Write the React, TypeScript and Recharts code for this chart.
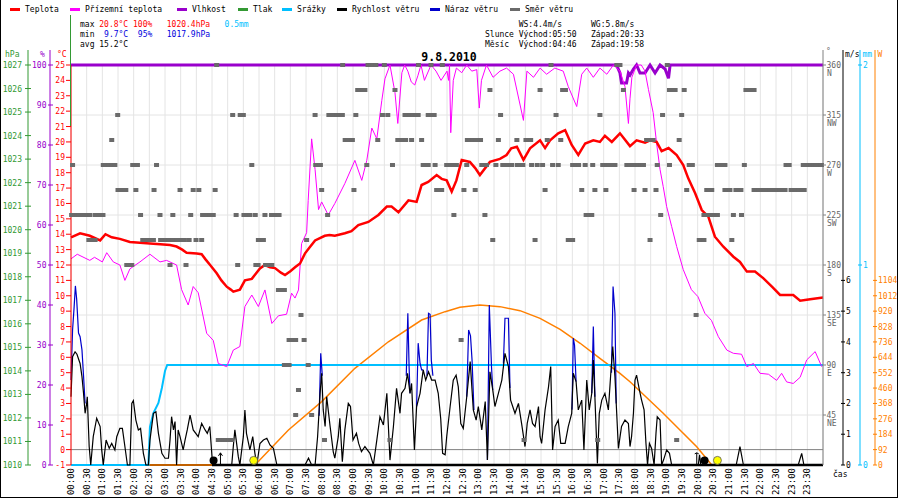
import React from "react";
import { ComposedChart, Line, Scatter, XAxis, YAxis, CartesianGrid, ReferenceLine } from "recharts";

const FONT = '"DejaVu Sans Mono", "Liberation Mono", monospace';

const C = {
  temp: "#ff0000",
  ground: "#ff00ff",
  hum: "#9900cc",
  pres: "#339933",
  rain: "#00bfff",
  ws: "#000000",
  wg: "#0000cc",
  dir: "#6a6a6a",
  sun: "#ff8000",
  axisGray: "#808080",
};

// axis ids (Recharts stacks same-side axes by id order, nearest to plot first)
const AX = { temp: "a_temp", hum: "b_hum", pres: "c_pres", dir: "d_dir", ws: "e_ws", mm: "f_mm", W: "g_W" };

// ---- tick labels ----
const timeLabels = [
  "00:00","00:30","01:00","01:30","02:00","02:30","03:00","03:30","04:00","04:30","05:00","05:30",
  "06:00","06:30","07:00","07:30","08:00","08:30","09:00","09:30","10:00","10:30","11:00","11:30",
  "12:00","12:30","13:00","13:30","14:00","14:30","15:00","15:30","16:00","16:30","17:00","17:30",
  "18:00","18:30","19:00","19:30","20:00","20:30","21:00","21:30","22:00","22:30","23:00","23:30",
];
const timeTicks = timeLabels.map((_, i) => i * 0.5);
const tempTicks = [-1,0,1,2,3,4,5,6,7,8,9,10,11,12,13,14,15,16,17,18,19,20,21,22,23,24,25];
const humTicks = [0,10,20,30,40,50,60,70,80,90,100];
const presTicks = [1010,1011,1012,1013,1014,1015,1016,1017,1018,1019,1020,1021,1022,1023,1024,1025,1026,1027];
const dirTicks = [45,90,135,180,225,270,315,360];
const dirNames = ["NE","E","SE","S","SW","W","NW","N"];
const wsTicks = [0,1,2,3,4,5,6];
const mmTicks = [0,1,2];
const wTicks = [0,92,184,276,368,460,552,644,736,828,920,1012,1104];

// ---- series (time in hours, value) ----
const temperature: [number, number][] = [
  [0,13.8],[0.29,14.06],[0.6,13.9],[0.93,13.6],[1.1,14.0],[1.3,13.8],[1.56,13.7],[1.88,13.5],[2.2,13.45],[2.52,13.4],
  [2.85,13.35],[3.16,13.3],[3.37,13.2],[3.55,13.0],[3.69,12.8],[4.01,12.75],[4.17,12.7],[4.3,12.35],[4.44,12.0],[4.65,11.46],
  [4.8,11.0],[4.97,10.59],[5.1,10.4],[5.18,10.27],[5.39,10.4],[5.55,11.0],[5.77,11.1],[6.03,11.78],[6.19,12.0],[6.35,11.85],
  [6.51,11.8],[6.7,11.5],[6.83,11.35],[7.0,11.6],[7.15,11.85],[7.31,12.1],[7.47,12.76],[7.6,13.1],[7.79,13.6],[8.1,13.9],
  [8.25,13.95],[8.42,13.9],[8.74,14.06],[8.95,14.2],[9.17,14.6],[9.49,14.8],[9.81,15.25],[10.08,15.8],[10.23,15.8],[10.45,15.43],
  [10.77,16.2],[11.03,16.1],[11.19,17.2],[11.4,17.4],[11.67,17.85],[11.83,17.6],[11.99,17.5],[12.15,16.77],[12.3,17.5],[12.47,18.83],
  [12.73,18.7],[12.9,18.3],[13.05,17.85],[13.37,18.7],[13.69,18.9],[13.9,19.15],[14.05,19.58],[14.23,19.69],[14.44,18.83],[14.65,19.58],
  [14.97,20.1],[15.13,19.6],[15.29,20.1],[15.55,20.56],[15.77,20.77],[15.98,19.8],[16.19,19.15],[16.41,19.9],[16.67,20.1],[16.88,20.0],
  [17.04,20.4],[17.26,20.0],[17.52,20.56],[17.84,19.73],[18.05,20.1],[18.32,19.95],[18.48,20.1],[18.69,20.0],[18.85,19.4],[19.07,19.6],
  [19.33,19.15],[19.54,18.5],[19.7,17.63],[19.92,16.66],[20.13,15.57],[20.34,15.14],[20.55,13.84],[20.82,13.19],[21.14,12.54],[21.35,12.2],
  [21.57,11.57],[21.83,11.57],[22.1,11.13],[22.37,10.59],[22.63,10.05],[23.05,10.05],[23.27,9.68],[23.59,9.78],[24,9.88],
];

const groundTemp: [number, number][] = [
  [0,12.4],[0.2,12.7],[0.6,12.3],[0.75,12.5],[1.0,12.2],[1.14,12.8],[1.35,12.2],[1.56,12.0],[1.72,11.0],[1.88,11.75],
  [2.2,12.2],[2.52,12.7],[2.84,12.2],[3.05,12.3],[3.37,12.0],[3.53,10.4],[3.74,9.4],[3.9,10.6],[4.06,10.2],[4.33,7.56],
  [4.54,7.1],[4.7,5.6],[4.97,5.39],[5.18,6.47],[5.39,6.7],[5.55,9.3],[5.77,10.05],[5.98,9.3],[6.19,10.38],[6.41,8.2],
  [6.62,8.7],[6.88,8.8],[7.04,10.17],[7.15,9.85],[7.26,10.38],[7.36,13.4],[7.52,14.1],[7.57,16.2],[7.68,20.2],[7.79,18.2],
  [7.9,15.6],[8.0,16.1],[8.21,15.25],[8.42,16.0],[8.74,17.3],[9.06,18.8],[9.28,17.5],[9.44,18.8],[9.6,20.9],[9.76,20.2],
  [9.92,22.7],[10.02,24.1],[10.18,25.0],[10.34,23.2],[10.43,21.2],[10.56,24.5],[10.65,25.0],[10.75,24.6],[10.86,23.9],[10.97,23.7],
  [11.07,24.3],[11.17,25.0],[11.28,24.0],[11.49,25.0],[11.65,24.6],[11.81,24.0],[12.0,24.6],[12.05,24.0],[12.08,25.0],[12.12,20.6],
  [12.2,24.0],[12.3,24.8],[12.47,24.5],[12.63,25.0],[12.79,24.6],[12.95,24.7],[13.03,22.2],[13.1,24.0],[13.26,25.0],[13.47,24.2],
  [13.69,24.6],[13.9,24.8],[14.12,24.4],[14.44,21.4],[14.55,24.6],[14.76,24.2],[14.97,24.8],[15.18,24.4],[15.44,24.8],[15.71,24.6],
  [15.87,23.6],[16.14,22.3],[16.3,24.4],[16.46,24.8],[16.67,24.2],[16.88,24.8],[17.1,24.4],[17.31,25.0],[17.52,24.6],[17.68,23.6],
  [17.79,21.2],[17.84,22.8],[17.9,24.2],[18.05,25.0],[18.2,25.0],[18.32,24.6],[18.43,23.4],[18.58,21.9],[18.69,19.9],[18.8,18.2],
  [18.9,17.1],[19.01,15.8],[19.17,14.5],[19.33,13.2],[19.54,11.7],[19.8,10.4],[20.01,9.94],[20.23,8.86],[20.44,8.4],[20.66,7.34],
  [20.93,6.47],[21.14,6.26],[21.4,6.2],[21.57,5.39],[21.78,5.6],[21.99,4.96],[22.26,4.9],[22.52,4.5],[22.68,4.96],[22.84,4.4],
  [23.05,4.3],[23.27,4.7],[23.48,5.83],[23.75,6.37],[23.96,5.39],
];

const humidity: [number, number][] = [
  [0,100],[17.41,100],[17.52,98],[17.57,95.5],[17.73,95.5],[17.79,98],[17.84,97.5],[17.95,99],[18.05,100],[18.16,98],
  [18.32,98],[18.48,100],[18.64,98],[18.8,100],[18.96,99],[19.07,96.7],[19.12,100],[24,100],
];

const precipitation: [number, number][] = [
  [0,0],[2.47,0],[2.52,0.19],[2.63,0.26],[2.79,0.31],[2.9,0.385],[3.0,0.47],[3.07,0.5],[24,0.5],
];

const radiation: [number, number][] = [
  [0,0],[5.87,0],[6.94,209],[8.0,379],[9.06,578],[10.13,737],[11.19,867],[11.94,917],[12.41,943],[13.05,957],
  [13.69,947],[14.33,923],[14.97,877],[15.61,811],[16.25,728],[16.88,638],[17.52,548],[17.84,498],[18.9,309],[19.97,109],
  [20.45,0],[24,0],
];

const windSpeed: [number, number][] = [
  [0,2.22],[0.05,3.52],[0.13,3.68],[0.19,3.6],[0.29,3.3],[0.35,2.87],[0.4,2.33],[0.45,1.68],[0.5,2.0],[0.52,2.22],
  [0.58,0.6],[0.63,0],[0.71,0.92],[0.82,1.52],[0.93,1.25],[0.98,0.49],[1.03,0],[1.12,0.81],[1.22,0.54],[1.3,0.7],
  [1.4,0.49],[1.46,0.92],[1.56,1.19],[1.64,1.19],[1.72,0.6],[1.8,0],[1.88,0],[1.94,2.0],[1.99,2.09],[2.07,1.46],
  [2.15,1.14],[2.22,1.19],[2.31,0.38],[2.39,0],[2.47,0],[2.52,0.81],[2.63,1.68],[2.71,1.73],[2.79,1.03],[2.9,0.38],
  [3.0,0.22],[3.11,0.22],[3.16,0.81],[3.21,1.57],[3.27,1.14],[3.32,1.41],[3.37,0],[3.42,1.14],[3.48,0.92],[3.58,0.49],
  [3.64,0.81],[3.71,1.14],[3.8,1.62],[3.9,1.14],[4.06,0.92],[4.17,1.35],[4.28,1.14],[4.35,1.03],[4.43,1.25],[4.52,0],
  [5.13,0],[5.18,0.6],[5.23,1.14],[5.34,0.27],[5.39,0],[5.5,0.92],[5.55,1.79],[5.6,1.03],[5.71,0.49],[5.8,0.92],
  [5.87,0.38],[5.93,0],[6.03,0.7],[6.14,0.81],[6.25,0.87],[6.35,0.65],[6.46,0.54],[6.57,0],[7.47,0],[7.58,0.22],
  [7.68,0],[7.79,0],[7.87,0.92],[7.95,2.33],[8.0,2.98],[8.05,1.79],[8.11,1.25],[8.16,2.22],[8.27,1.25],[8.37,0.43],
  [8.42,0.22],[8.53,0.92],[8.58,1.52],[8.66,0.11],[8.74,1.14],[8.85,2.0],[8.92,1.9],[9.0,0.81],[9.11,1.03],[9.18,0.7],
  [9.27,0.43],[9.38,0.6],[9.54,0.38],[9.65,0],[9.76,0.81],[9.86,1.57],[9.97,1.3],[10.08,2.33],[10.18,0.16],[10.29,1.25],
  [10.39,2.49],[10.5,1.68],[10.55,2.33],[10.66,2.49],[10.74,2.98],[10.82,2.33],[10.87,2.65],[10.96,0.49],[11.03,1.9],[11.14,2.33],
  [11.24,3.09],[11.32,2.76],[11.41,3.03],[11.51,2.76],[11.62,2.76],[11.72,2.33],[11.8,1.5],[11.86,0.38],[11.94,0.33],[11.99,0.92],
  [12.1,1.9],[12.2,2.76],[12.29,2.92],[12.36,2.54],[12.44,1.35],[12.52,1.19],[12.63,2.22],[12.74,3.36],[12.84,1.79],[12.93,1.46],
  [13.0,1.9],[13.11,1.14],[13.22,2.06],[13.29,0.16],[13.37,3.03],[13.46,2.44],[13.53,1.9],[13.64,2.33],[13.75,2.76],[13.85,3.63],
  [13.96,3.2],[14.03,2.11],[14.17,1.68],[14.28,2.0],[14.38,1.35],[14.49,0.6],[14.56,1.35],[14.65,1.79],[14.73,1.35],[14.81,1.25],
  [14.92,1.9],[14.97,0.92],[15.02,0.7],[15.13,1.79],[15.24,2.54],[15.31,3.2],[15.37,0.49],[15.45,1.25],[15.55,1.46],[15.63,0.7],
  [15.77,0.7],[15.87,1.25],[15.98,1.68],[16.03,2.98],[16.12,2.71],[16.19,1.79],[16.3,2.11],[16.37,0.49],[16.46,2.76],[16.54,1.79],
  [16.62,2.33],[16.67,3.41],[16.72,2.22],[16.8,0.05],[16.86,1.68],[16.94,2.11],[17.04,2.33],[17.15,1.79],[17.22,2.87],[17.29,3.85],
  [17.36,2.87],[17.47,0.54],[17.57,1.25],[17.68,1.46],[17.79,1.35],[17.84,0.6],[17.89,0.92],[17.95,1.68],[18.0,2.76],[18.05,2.92],
  [18.14,2.44],[18.21,2.11],[18.29,1.79],[18.35,0.7],[18.4,0],[18.46,0.7],[18.53,0.54],[18.61,0],[18.67,1.03],[18.71,1.57],
  [18.8,1.46],[18.85,0],[18.91,0.16],[19.01,0.49],[19.1,0.38],[19.17,0],[20.02,0],[20.06,0.33],[20.1,0],[21.23,0],
  [21.35,0.6],[21.46,0],[23.21,0],[23.32,0.38],[23.39,0],[24,0],
];

// gusts: only the stretches where the gust trace rises above the mean wind
const windGusts: [number, number][][] = [
  [[0,2.76],[0.05,4.39],[0.1,5.14],[0.14,5.82],[0.18,5.4],[0.24,4.29],[0.29,4.17],[0.35,3.74],[0.4,2.9],[0.45,2.0]],
  [[7.92,1.6],[7.97,3.63],[8.02,2.9]],
  [[10.7,2.9],[10.75,4.93],[10.79,3.2],[10.82,2.33]],
  [[11.03,1.9],[11.08,3.96],[11.14,3.3],[11.19,3.09],[11.24,3.09]],
  [[11.36,2.9],[11.41,4.93],[11.46,4.9],[11.5,3.4],[11.55,2.9]],
  [[12.63,2.22],[12.69,4.39],[12.75,4.2],[12.8,3.4],[12.86,1.79]],
  [[13.29,0.16],[13.35,5.2],[13.42,3.2],[13.46,2.44]],
  [[13.8,3.3],[13.85,4.77],[13.96,4.77],[14.01,2.5]],
  [[15.99,1.8],[16.03,4.12],[16.07,3.9],[16.12,2.71]],
  [[16.62,2.33],[16.67,4.5],[16.72,2.22]],
  [[17.25,3.0],[17.3,5.8],[17.36,4.93],[17.4,2.0]],
];

const windDirection: [number, number][] = [
  [4.65,360],[8.67,360],[9.48,360],[9.56,360],[9.64,360],[9.73,360],[10.0,360],[11.09,360],[11.49,360],[11.85,360],[15.32,360],[17.42,360],[17.52,360],[19.03,360],
  [9.15,337.5],[9.23,337.5],[9.31,337.5],[9.38,337.5],[10.34,337.5],[13.37,337.5],[14.97,337.5],[15.69,337.5],[15.78,337.5],[17.63,337.5],[19.1,337.5],[19.19,337.5],[19.28,337.5],[19.57,337.5],[21.54,337.5],[21.63,337.5],[21.72,337.5],[21.8,337.5],
  [1.49,315],[5.16,315],[5.4,315],[5.5,315],[7.79,315],[8.23,315],[8.31,315],[8.4,315],[8.48,315],[8.57,315],[8.66,315],[9.09,315],[9.94,315],[10.11,315],[10.66,315],[10.74,315],[10.82,315],[10.92,315],[11.0,315],[11.08,315],[11.4,315],[11.5,315],[11.59,315],[13.71,315],[15.48,315],[16.88,315],[18.88,315],[19.49,315],
  [1.3,292.5],[8.75,292.5],[8.85,292.5],[8.98,292.5],[9.79,292.5],[10.43,292.5],[10.52,292.5],[10.6,292.5],[10.68,292.5],[10.87,292.5],[11.19,292.5],[12.65,292.5],[12.74,292.5],[12.84,292.5],[12.93,292.5],[13.0,292.5],[13.07,292.5],[13.64,292.5],[14.23,292.5],[14.52,292.5],[14.6,292.5],[14.67,292.5],[15.2,292.5],[15.63,292.5],[18.37,292.5],[18.47,292.5],[18.58,292.5],[19.41,292.5],
  [0.05,270],[1.03,270],[1.12,270],[1.2,270],[1.3,270],[1.4,270],[1.97,270],[2.12,270],[2.73,270],[5.77,270],[7.81,270],[7.89,270],[7.96,270],[9.44,270],[10.26,270],[11.24,270],[11.32,270],[11.4,270],[11.62,270],[11.99,270],[12.07,270],[12.14,270],[12.2,270],[12.3,270],[12.63,270],[13.11,270],[13.26,270],[13.56,270],[13.78,270],[13.86,270],[13.94,270],[14.02,270],[14.07,270],[14.25,270],[14.33,270],[14.42,270],[14.7,270],[14.88,270],[15.05,270],[15.37,270],[15.55,270],[16.01,270],[16.11,270],[16.2,270],[16.41,270],[16.65,270],[16.97,270],[17.1,270],[17.18,270],[17.27,270],[17.36,270],[17.74,270],[17.84,270],[17.92,270],[18.0,270],[18.09,270],[18.18,270],[18.27,270],[18.71,270],[19.1,270],[19.73,270],[19.83,270],[20.63,270],[20.71,270],[20.79,270],[20.87,270],[21.49,270],[22.82,270],[22.92,270],[23.37,270],[23.45,270],[23.54,270],[23.62,270],[23.7,270],[23.79,270],[23.87,270],[23.95,270],
  [1.5,247.5],[1.58,247.5],[1.66,247.5],[1.75,247.5],[2.07,247.5],[2.65,247.5],[3.48,247.5],[3.9,247.5],[4.08,247.5],[4.6,247.5],[8.0,247.5],[9.03,247.5],[11.67,247.5],[11.75,247.5],[11.83,247.5],[12.54,247.5],[12.9,247.5],[15.13,247.5],[16.3,247.5],[16.72,247.5],[17.07,247.5],[17.97,247.5],[18.32,247.5],[18.67,247.5],[19.65,247.5],[20.29,247.5],[20.37,247.5],[20.45,247.5],[20.87,247.5],[20.95,247.5],[21.03,247.5],[21.22,247.5],[21.3,247.5],[21.38,247.5],[21.8,247.5],[21.88,247.5],[21.97,247.5],[22.05,247.5],[22.13,247.5],[22.22,247.5],[22.3,247.5],[22.38,247.5],[22.46,247.5],[22.55,247.5],[22.63,247.5],[22.71,247.5],[22.79,247.5],[22.98,247.5],[23.07,247.5],[23.15,247.5],[23.23,247.5],[23.32,247.5],[23.4,247.5],
  [0.02,225],[0.1,225],[0.18,225],[0.27,225],[0.35,225],[0.43,225],[0.52,225],[0.6,225],[0.77,225],[0.85,225],[0.94,225],[1.02,225],[2.22,225],[2.84,225],[3.25,225],[3.82,225],[4.2,225],[4.28,225],[4.37,225],[4.45,225],[4.54,225],[5.27,225],[5.52,225],[5.6,225],[5.71,225],[5.88,225],[6.19,225],[6.4,225],[6.48,225],[6.56,225],[6.64,225],[8.19,225],[12.22,225],[13.21,225],[16.44,225],[16.53,225],[16.62,225],[18.82,225],[20.2,225],[20.28,225],[20.37,225],[20.45,225],[20.54,225],[20.63,225],[21.14,225],[21.4,225],
  [0.57,202.5],[0.67,202.5],[0.77,202.5],[2.29,202.5],[2.37,202.5],[2.46,202.5],[2.54,202.5],[2.63,202.5],[2.86,202.5],[2.94,202.5],[3.03,202.5],[3.14,202.5],[3.27,202.5],[3.37,202.5],[3.48,202.5],[3.62,202.5],[3.77,202.5],[3.99,202.5],[4.17,202.5],[5.98,202.5],[6.06,202.5],[6.14,202.5],[7.52,202.5],[13.46,202.5],[14.81,202.5],[15.87,202.5],[15.95,202.5],[16.01,202.5],[18.48,202.5],[20.05,202.5],[20.13,202.5],[20.2,202.5],[21.09,202.5],
  [1.78,180],[1.86,180],[1.94,180],[3.16,180],[3.67,180],[5.32,180],[5.9,180],[5.97,180],[6.21,180],[6.29,180],[6.35,180],[6.41,180],
  [6.62,157.5],[6.7,157.5],[6.81,157.5],
  [7.34,135],[19.95,135],
  [6.96,112.5],[7.06,112.5],[7.17,112.5],[7.44,112.5],[12.45,112.5],
  [6.81,90],[6.88,90],[6.96,90],[7.57,90],
  [7.26,67.5],
  [7.17,45],[7.68,45],
  [4.7,22.5],[4.78,22.5],[4.87,22.5],[4.95,22.5],[5.04,22.5],[5.12,22.5],[8.09,22.5],[10.18,22.5],[14.46,22.5],[16.81,22.5],[19.33,22.5],
];

// sun / moon markers (time in hours)
const moonMarks = [4.55, 20.22];
const sunMarks = [5.83, 20.63];
const moonRiseArrow = [4.77];
const moonSetArrow = [19.97];

const legendItems = [
  { label: "Teplota", color: C.temp },
  { label: "Přízemní teplota", color: C.ground },
  { label: "Vlhkost", color: C.hum },
  { label: "Tlak", color: C.pres },
  { label: "Srážky", color: C.rain },
  { label: "Rychlost větru", color: C.ws },
  { label: "Náraz větru", color: C.wg },
  { label: "Směr větru", color: C.dir },
];
const legendX = [10, 70, 177, 238, 282, 337, 430, 510];

const toRows = (arr: [number, number][]) => arr.map(([t, v]) => ({ t, v }));
const tempData = toRows(temperature);
const groundData = toRows(groundTemp);
const humData = toRows(humidity);
const rainData = toRows(precipitation);
const radData = toRows(radiation);
const wsData = toRows(windSpeed);
const gustData = windGusts.map(toRows);
const dirData = toRows(windDirection);
const markerV = -0.7;
const moonData = moonMarks.map((t) => ({ t, v: markerV }));
const sunData = sunMarks.map((t) => ({ t, v: markerV }));
const riseData = moonRiseArrow.map((t) => ({ t, v: -0.6 }));
const setData = moonSetArrow.map((t) => ({ t, v: -0.6 }));

const CW = 4.82; // monospace advance at 8px

const leftTick = (color: string, gap: number, l: number, r: number) => (props: any) => {
  const { x, y, payload } = props;
  return (
    <g>
      <line x1={x - l} x2={x + r} y1={y} y2={y} stroke={color} strokeWidth={1} />
      <text x={x - gap} y={y} dy={3} textAnchor="end" fill={color} fontSize={8} fontFamily={FONT}>
        {payload.value}
      </text>
    </g>
  );
};

const rightTick = (color: string, gap: number, l: number, r: number) => (props: any) => {
  const { x, y, payload } = props;
  return (
    <g>
      <line x1={x - l} x2={x + r} y1={y} y2={y} stroke={color} strokeWidth={1} />
      <text x={x + gap} y={y} dy={3} textAnchor="start" fill={color} fontSize={8} fontFamily={FONT}>
        {payload.value}
      </text>
    </g>
  );
};

const dirTick = (props: any) => {
  const { x, y, payload } = props;
  const idx = dirTicks.indexOf(payload.value);
  return (
    <g>
      <line x1={x} x2={x + 3} y1={y} y2={y} stroke={C.axisGray} />
      <text x={x + 3.5} y={y} dy={3} fill="#666" fontSize={8} fontFamily={FONT}>{payload.value}</text>
      <text x={x + 4} y={y} dy={11} fill="#666" fontSize={8} fontFamily={FONT}>{dirNames[idx]}</text>
    </g>
  );
};

const xTick = (props: any) => {
  const { x, y, payload } = props;
  const label = timeLabels[Math.round(payload.value * 2)] ?? "";
  const yy = y + 3;
  return (
    <text x={x} y={yy} dy={3} transform={`rotate(-90 ${x} ${yy})`} textAnchor="end" fill="#000" fontSize={9} fontFamily={FONT}>
      {label}
    </text>
  );
};

const dirShape = (p: any) => <rect x={p.cx - 2.5} y={p.cy - 2} width={5} height={4} fill={C.dir} />;
const moonShape = (p: any) => <circle cx={p.cx} cy={p.cy} r={4} fill="#000" />;
const sunShape = (p: any) => <circle cx={p.cx} cy={p.cy} r={4} fill="#ffff00" stroke="#555" strokeWidth={0.8} />;
const upArrow = (p: any) => (
  <g stroke="#000" strokeWidth={1} fill="none">
    <line x1={p.cx} x2={p.cx} y1={p.cy + 6} y2={p.cy - 6} />
    <polyline points={`${p.cx - 2},${p.cy - 3} ${p.cx},${p.cy - 6} ${p.cx + 2},${p.cy - 3}`} />
  </g>
);
const downArrow = (p: any) => (
  <g stroke="#000" strokeWidth={1} fill="none">
    <line x1={p.cx} x2={p.cx} y1={p.cy - 6} y2={p.cy + 6} />
    <polyline points={`${p.cx - 2},${p.cy - 5} ${p.cx},${p.cy - 6} ${p.cx + 2},${p.cy - 5}`} />
  </g>
);

const T = (props: { x: number; y: number; c?: string; children: React.ReactNode; size?: number; anchor?: string; weight?: string }) => (
  <text x={props.x} y={props.y} fill={props.c ?? "#000"} fontSize={props.size ?? 8} fontFamily={FONT} textAnchor={(props.anchor as any) ?? "start"} fontWeight={props.weight ?? "normal"}>
    {props.children}
  </text>
);

const lineCommon = { dot: false, activeDot: false, isAnimationActive: false, type: "linear" as const };

export default function App() {
  const hx = 80;
  const rx = 485;
  return (
    <div style={{ position: "absolute", left: 0, top: 0, width: 900, height: 500, background: "#fff" }}>
      <ComposedChart width={900} height={500} margin={{ top: 65, right: 0, bottom: 0, left: 0 }}>
        <XAxis xAxisId={0} type="number" dataKey="t" domain={[0, 24]} ticks={timeTicks} interval={0} height={35}
          axisLine={false} tickLine={false} tickSize={0} tickMargin={0} tick={xTick} />
        <YAxis yAxisId={AX.temp} orientation="left" type="number" width={21} domain={[-1, 25]} ticks={tempTicks} interval={0}
          axisLine={{ stroke: C.temp }} tickLine={false} tickSize={0} tickMargin={0} tick={leftTick(C.temp, 6, 5, 0)} />
        <YAxis yAxisId={AX.hum} orientation="left" type="number" width={22} domain={[0, 100]} ticks={humTicks} interval={0}
          axisLine={{ stroke: C.hum }} tickLine={false} tickSize={0} tickMargin={0} tick={leftTick(C.hum, 3.5, 2, 3)} />
        <YAxis yAxisId={AX.pres} orientation="left" type="number" width={28} domain={[1010, 1027]} ticks={presTicks} interval={0}
          allowDataOverflow axisLine={{ stroke: C.pres }} tickLine={false} tickSize={0} tickMargin={0} tick={leftTick(C.pres, 6, 3, 3)} />
        <YAxis yAxisId={AX.dir} orientation="right" type="number" width={20} domain={[0, 360]} ticks={dirTicks} interval={0}
          axisLine={{ stroke: C.axisGray }} tickLine={false} tickSize={0} tickMargin={0} tick={dirTick} />
        <YAxis yAxisId={AX.ws} orientation="right" type="number" width={17} domain={[0, 13]} ticks={wsTicks} interval={0}
          axisLine={{ stroke: "#000" }} tickLine={false} tickSize={0} tickMargin={0} tick={rightTick("#000", 3, 2, 2)} />
        <YAxis yAxisId={AX.mm} orientation="right" type="number" width={15} domain={[0, 2]} ticks={mmTicks} interval={0}
          axisLine={{ stroke: C.rain }} tickLine={false} tickSize={0} tickMargin={0} tick={rightTick(C.rain, 3, 2, 2)} />
        <YAxis yAxisId={AX.W} orientation="right" type="number" width={25} domain={[0, 2392]} ticks={wTicks} interval={0}
          axisLine={{ stroke: C.sun }} tickLine={false} tickSize={0} tickMargin={0} tick={rightTick(C.sun, 3, 2, 2)} />

        <CartesianGrid xAxisId={0} yAxisId={AX.dir} stroke="#e4e4e4" />
        <ReferenceLine yAxisId={AX.temp} y={0} stroke="#808080" />
        <ReferenceLine yAxisId={AX.temp} y={-1} stroke="#000" strokeWidth={2} />

        <Line yAxisId={AX.W} data={radData} dataKey="v" stroke={C.sun} strokeWidth={1.5} {...lineCommon} />
        <ReferenceLine yAxisId={AX.temp} segment={[{ x: 4.5, y: -1 }, { x: 24, y: -1 }]} stroke="#000" strokeWidth={2.5} />
        <Line yAxisId={AX.mm} data={rainData} dataKey="v" stroke={C.rain} strokeWidth={2} {...lineCommon} />
        <Line yAxisId={AX.hum} data={humData} dataKey="v" stroke={C.hum} strokeWidth={3} {...lineCommon} />
        <Line yAxisId={AX.temp} data={groundData} dataKey="v" stroke={C.ground} strokeWidth={1} {...lineCommon} />
        <Line yAxisId={AX.temp} data={tempData} dataKey="v" stroke={C.temp} strokeWidth={2.5} {...lineCommon} />
        {gustData.map((g, i) => (
          <Line key={"g" + i} yAxisId={AX.ws} data={g} dataKey="v" stroke={C.wg} strokeWidth={1.2} {...lineCommon} />
        ))}
        <Line yAxisId={AX.ws} data={wsData} dataKey="v" stroke={C.ws} strokeWidth={1.2} {...lineCommon} />
        <Scatter yAxisId={AX.dir} data={dirData} dataKey="v" shape={dirShape} isAnimationActive={false} />
        <Scatter yAxisId={AX.temp} data={moonData} dataKey="v" shape={moonShape} isAnimationActive={false} />
        <Scatter yAxisId={AX.temp} data={sunData} dataKey="v" shape={sunShape} isAnimationActive={false} />
        <Scatter yAxisId={AX.temp} data={riseData} dataKey="v" shape={upArrow} isAnimationActive={false} />
        <Scatter yAxisId={AX.temp} data={setData} dataKey="v" shape={downArrow} isAnimationActive={false} />
      </ComposedChart>

      <svg width={900} height={500} style={{ position: "absolute", left: 0, top: 0, pointerEvents: "none" }}>
        {legendItems.map((it, i) => (
          <g key={it.label}>
            <line x1={legendX[i]} x2={legendX[i] + 10} y1={9.5} y2={9.5} stroke={it.color} strokeWidth={3} />
            <T x={legendX[i] + 15} y={11.5}>{it.label}</T>
          </g>
        ))}
        <T x={hx} y={26.5}>max</T>
        <T x={hx + 4 * CW} y={26.5} c={C.temp}>20.8°C</T>
        <T x={hx + 11 * CW} y={26.5} c={C.temp}>100%</T>
        <T x={hx + 18 * CW} y={26.5} c={C.temp}>1020.4hPa</T>
        <T x={hx + 30 * CW} y={26.5} c={C.rain}>0.5mm</T>
        <T x={hx} y={36.5}>min</T>
        <T x={hx + 5 * CW} y={36.5} c="#0000dd">9.7°C</T>
        <T x={hx + 12 * CW} y={36.5} c="#0000dd">95%</T>
        <T x={hx + 18 * CW} y={36.5} c="#0000dd">1017.9hPa</T>
        <T x={hx} y={46.5}>avg 15.2°C</T>

        <T x={rx + 7 * CW} y={26.5}>WS:4.4m/s</T>
        <T x={rx + 22 * CW} y={26.5}>WG:5.8m/s</T>
        <T x={rx} y={36.5}>Slunce</T>
        <T x={rx + 7 * CW} y={36.5}>Východ:05:50</T>
        <T x={rx + 22 * CW} y={36.5}>Západ:20:33</T>
        <T x={rx} y={46.5}>Měsíc</T>
        <T x={rx + 7 * CW} y={46.5}>Východ:04:46</T>
        <T x={rx + 22 * CW} y={46.5}>Západ:19:58</T>

        <T x={449} y={61} size={11.5} anchor="middle" weight="bold">9.8.2010</T>

        <T x={5} y={56.5} c={C.pres}>hPa</T>
        <T x={40} y={56.5} c={C.hum}>%</T>
        <T x={57} y={56.5} c={C.temp}>°C</T>
        <T x={826} y={54} c="#666">°</T>
        <T x={845} y={56.5}>m/s</T>
        <T x={862.5} y={56.5} c={C.rain}>mm</T>
        <T x={877.5} y={56.5} c={C.sun}>W</T>
        <line x1={28} x2={28} y1={50} y2={65} stroke={C.pres} />
        <line x1={50} x2={50} y1={50} y2={65} stroke={C.hum} />
        <line x1={823} x2={823} y1={50} y2={65} stroke={C.axisGray} />
        <line x1={843} x2={843} y1={50} y2={65} stroke="#000" />
        <line x1={860} x2={860} y1={50} y2={65} stroke={C.rain} />
        <line x1={875} x2={875} y1={50} y2={65} stroke={C.sun} />
        <line x1={70.5} x2={70.5} y1={15} y2={126} stroke={C.pres} />
        <T x={833} y={477}>čas</T>
      </svg>
      <div style={{ position: "absolute", left: 0, top: 0, width: 896, height: 497, borderLeft: "1px solid #000", borderRight: "1px solid #000", borderBottom: "1px solid #000", pointerEvents: "none" }} />
    </div>
  );
}
